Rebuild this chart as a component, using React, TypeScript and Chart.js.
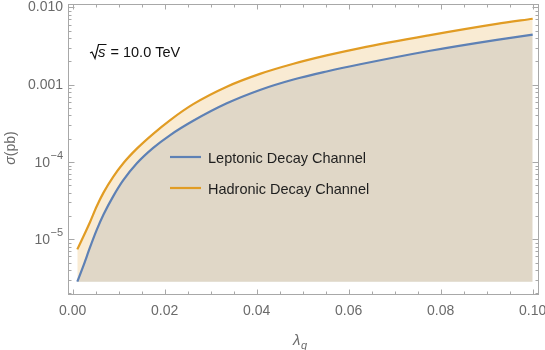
import React, { useEffect, useRef } from "react";
import { Chart, registerables } from "chart.js";

Chart.register(...registerables);

// ---- data ----
const lambdaQ = [0.001, 0.0023, 0.0038, 0.0052, 0.0067, 0.0088, 0.011, 0.014, 0.0175, 0.0212, 0.0262, 0.0335, 0.0407, 0.048, 0.0552, 0.0625, 0.0777, 0.0922, 0.1];
const leptonic = [2.83e-6, 4.5e-6, 7.96e-6, 1.312e-5, 2.09e-5, 3.59e-5, 5.81e-5, 9.68e-5, 1.52e-4, 2.23e-4, 3.41e-4, 5.74e-4, 8.55e-4, 1.167e-3, 1.483e-3, 1.837e-3, 2.75e-3, 3.81e-3, 4.45e-3];
const hadronic = [7.41e-6, 1.079e-5, 1.69e-5, 2.655e-5, 4.02e-5, 6.43e-5, 9.64e-5, 1.5e-4, 2.317e-4, 3.49e-4, 5.6e-4, 9.42e-4, 1.38e-3, 1.866e-3, 2.393e-3, 2.98e-3, 4.375e-3, 6.11e-3, 7.13e-3];
const fillFloor = 2.83e-6;
const seriesNames = ["Leptonic Decay Channel", "Hadronic Decay Channel"];
const xTickValues = [0, 0.02, 0.04, 0.06, 0.08, 0.1];
const xTickLabels = ["0.00", "0.02", "0.04", "0.06", "0.08", "0.10"];
const yTickValues = [1e-5, 1e-4, 1e-3, 1e-2];
const yTickBases = ["10", "10", "0.001", "0.010"];
const yTickExponents = ["\u22125", "\u22124", "", ""];
const annotationText = "= 10.0 TeV";

const BLUE = "rgb(94,129,181)";
const ORANGE = "rgb(225,156,36)";
const FONT = '"Liberation Sans", Arial, sans-serif';

const decorPlugin = {
  id: "decor",
  afterDatasetsDraw(chart: any) {
    const { ctx, chartArea: ca, scales } = chart;
    const xs = scales.x;
    const ys = scales.y;
    ctx.save();
    const L = Math.round(ca.left) + 0.5;
    const R = Math.round(ca.right) - 0.5;
    const T = Math.round(ca.top) + 0.5;
    const B = Math.round(ca.bottom) - 0.5;
    ctx.strokeStyle = "#a8a8a8";
    ctx.lineWidth = 1;
    ctx.strokeRect(L, T, R - L, B - T);
    ctx.beginPath();
    // x ticks (major every 0.02, minor every 0.005)
    for (let i = 0; i <= 20; i++) {
      const v = i * 0.005;
      const p = Math.round(xs.getPixelForValue(v)) + 0.5;
      const len = i % 4 === 0 ? 5 : 3;
      ctx.moveTo(p, B);
      ctx.lineTo(p, B - len);
      ctx.moveTo(p, T);
      ctx.lineTo(p, T + len);
    }
    // y ticks (log)
    for (let e = -6; e <= -2; e++) {
      for (let k = 1; k <= 9; k++) {
        const v = k * Math.pow(10, e);
        if (v < ys.min || v > ys.max) continue;
        const p = Math.round(ys.getPixelForValue(v)) + 0.5;
        const len = k === 1 ? 6 : 3;
        ctx.moveTo(L, p);
        ctx.lineTo(L + len, p);
        ctx.moveTo(R, p);
        ctx.lineTo(R - len, p);
      }
    }
    ctx.stroke();

    // tick labels
    ctx.fillStyle = "#6a6a6a";
    ctx.font = `14px ${FONT}`;
    ctx.textAlign = "center";
    ctx.textBaseline = "middle";
    xTickValues.forEach((v, i) => {
      ctx.fillText(xTickLabels[i], xs.getPixelForValue(v), 311);
    });
    ctx.textAlign = "right";
    yTickValues.forEach((v, i) => {
      const p = ys.getPixelForValue(v);
      const right = 63;
      const ex = yTickExponents[i];
      if (ex) {
        ctx.font = `11px ${FONT}`;
        const ew = ctx.measureText(ex).width;
        ctx.fillText(ex, right, p - 6);
        ctx.font = `14px ${FONT}`;
        ctx.fillText(yTickBases[i], right - ew - 0.5, p + 1);
      } else {
        ctx.font = `14px ${FONT}`;
        ctx.fillText(yTickBases[i], right, p);
      }
    });

    // axis titles
    ctx.fillStyle = "#6a6a6a";
    ctx.textBaseline = "middle";
    ctx.textAlign = "left";
    ctx.save();
    ctx.translate(11, 148);
    ctx.rotate(-Math.PI / 2);
    ctx.font = `italic 14px ${FONT}`;
    const sw = ctx.measureText("\u03c3").width;
    ctx.font = `14px ${FONT}`;
    const pw = ctx.measureText("(pb)").width;
    const startX = -(sw + pw) / 2;
    ctx.font = `italic 14px ${FONT}`;
    ctx.fillText("\u03c3", startX, 0);
    ctx.font = `14px ${FONT}`;
    ctx.fillText("(pb)", startX + sw, 0);
    ctx.restore();
    ctx.font = `italic 15px ${FONT}`;
    ctx.fillText("\u03bb", 293, 341);
    const lw = ctx.measureText("\u03bb").width;
    ctx.font = `italic 11px ${FONT}`;
    ctx.fillText("q", 293 + lw + 0.5, 346);
    ctx.restore();
  },
  afterDraw(chart: any) {
    const { ctx } = chart;
    ctx.save();
    const rows = [
      { y: 157, color: BLUE, text: seriesNames[0] },
      { y: 188, color: ORANGE, text: seriesNames[1] },
    ];
    rows.forEach((r) => {
      ctx.strokeStyle = r.color;
      ctx.lineWidth = 2.2;
      ctx.beginPath();
      ctx.moveTo(170, r.y);
      ctx.lineTo(201, r.y);
      ctx.stroke();
      ctx.fillStyle = "#1e1e1e";
      ctx.font = `14.5px ${FONT}`;
      ctx.textAlign = "left";
      ctx.textBaseline = "middle";
      ctx.fillText(r.text, 208, r.y + 1.5);
    });
    ctx.strokeStyle = "#111";
    ctx.lineWidth = 1.2;
    ctx.beginPath();
    ctx.moveTo(90, 53);
    ctx.lineTo(92, 52);
    ctx.lineTo(95, 58.5);
    ctx.lineTo(98.5, 44.5);
    ctx.lineTo(106.5, 44.5);
    ctx.stroke();
    ctx.fillStyle = "#111";
    ctx.textAlign = "left";
    ctx.textBaseline = "alphabetic";
    ctx.font = `italic 15px ${FONT}`;
    ctx.fillText("s", 98, 57);
    ctx.font = `14.5px ${FONT}`;
    ctx.fillText(annotationText, 110.5, 57);
    ctx.restore();
  },
};

export default function App() {
  const ref = useRef<HTMLCanvasElement | null>(null);
  useEffect(() => {
    if (!ref.current) return;
    const lepPts = lambdaQ.map((x, i) => ({ x, y: leptonic[i] }));
    const hadPts = lambdaQ.map((x, i) => ({ x, y: hadronic[i] }));
    const chart = new Chart(ref.current, {
      type: "line",
      data: {
        datasets: [
          {
            label: seriesNames[1],
            data: hadPts,
            borderColor: ORANGE,
            backgroundColor: "rgba(225,156,36,0.2)",
            borderWidth: 2.2,
            pointRadius: 0,
            cubicInterpolationMode: "monotone",
            fill: { value: fillFloor },
          },
          {
            label: seriesNames[0],
            data: lepPts,
            borderColor: BLUE,
            backgroundColor: "rgba(94,129,181,0.2)",
            borderWidth: 2.2,
            pointRadius: 0,
            cubicInterpolationMode: "monotone",
            fill: { value: fillFloor },
          },
        ],
      },
      options: {
        animation: false,
        responsive: false,
        maintainAspectRatio: false,
        layout: { padding: { top: 4, right: 6, left: 0, bottom: 0 } },
        plugins: {
          legend: { display: false },
          tooltip: { enabled: false },
          filler: { drawTime: "beforeDatasetsDraw" },
        } as any,
        scales: {
          x: {
            type: "linear",
            min: -0.00102,
            max: 0.10137,
            grid: { display: false, drawTicks: false },
            border: { display: false },
            ticks: { display: false },
            afterFit: (s: any) => {
              s.height = 55;
            },
          },
          y: {
            type: "logarithmic",
            min: 1.903e-6,
            max: 0.01107,
            grid: { display: false, drawTicks: false },
            border: { display: false },
            ticks: { display: false },
            afterFit: (s: any) => {
              s.width = 68;
            },
          },
        },
      },
      plugins: [decorPlugin],
    });
    return () => chart.destroy();
  }, []);
  return (
    <div style={{ position: "absolute", left: 0, top: 0, width: 545, height: 350, background: "#fff" }}>
      <canvas ref={ref} width={545} height={350} style={{ display: "block" }} />
    </div>
  );
}
